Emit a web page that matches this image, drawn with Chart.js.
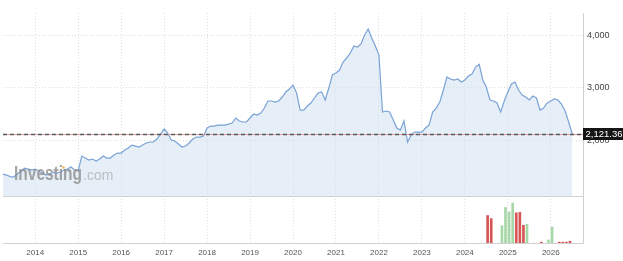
<!DOCTYPE html>
<html><head><meta charset="utf-8">
<script src="https://cdn.jsdelivr.net/npm/chart.js@4.4.1/dist/chart.umd.min.js"></script>
<style>html,body{margin:0;padding:0;background:#fff;}#wrap{width:623px;height:261px;position:relative;}</style>
</head><body><div id="wrap"><canvas id="c" width="623" height="261"></canvas></div>
<script>
// ---- data ----
const startYear = 2013, startMonth = 4; // first monthly category: Apr 2013
const prices = [
  1358,1339,1310,1301,1358,1415,1472,1453,1434,
  1453,1415,1377,1339,1358,1396,1377,1396,1434,1453,1491,1434,
  1420,1700,1663,1625,1644,1606,1644,1701,1663,1663,1720,1758,
  1758,1815,1853,1910,1891,1872,1910,1949,1968,1968,2025,2120,
  2215,2139,2006,1987,1930,1872,1891,1949,2025,2063,2063,2082,
  2234,2272,2272,2291,2291,2291,2310,2330,2425,2368,2349,2349,
  2425,2501,2482,2520,2615,2749,2749,2730,2749,2825,2920,2977,
  3053,2901,2577,2577,2653,2711,2806,2901,2920,2768,2996,3244,
  3282,3339,3492,3568,3663,3796,3777,3835,4006,4120,3949,3796,
  3625,2539,2558,2539,2387,2234,2196,2368,1968,2101,2158,2158,
  2158,2234,2291,2539,2615,2730,2958,3206,3168,3149,3168,3111,
  3149,3225,3263,3396,3450,3149,3015,2768,2749,2711,2539,2749,
  2920,3073,3111,2958,2863,2825,2768,2844,2806,2577,2615,2711,
  2749,2787,2768,2692,2558,2349,2121.36
];
const lastPrice = 2121.36;
const volumeMonths = ['2024-07','2024-08','2024-11','2024-12','2025-01','2025-02','2025-03','2025-04','2025-05','2025-06','2025-10','2025-12','2026-01','2026-03','2026-04','2026-05','2026-06'];
const volumeValues = [62,55,39,80,70,90,68,69,40,42,2,7,36,2,2,2,4];
const volumeDirection = ['down','down','up','up','up','up','down','down','down','up','down','up','up','down','down','down','down'];
const yearTicks = [2014,2015,2016,2017,2018,2019,2020,2021,2022,2023,2024,2025,2026];
const priceTicks = [2000,3000,4000];

// ---- build ----
const monthLabels = prices.map((_, i) => {
  const m = startMonth - 1 + i;
  return (startYear + Math.floor(m / 12)) + '-' + String(m % 12 + 1).padStart(2, '0');
});
const toX = s => { const [yy, mm] = s.split('-').map(Number); return yy + (mm - 1) / 12; };
const lineData = monthLabels.map((l, i) => ({x: toX(l), y: prices[i]}));
const volData = volumeMonths.map((l, i) => ({x: toX(l) + 0.03, y: volumeValues[i]}));
const volColors = volumeDirection.map(d => d === 'up' ? '#a6d7a6' : '#d65656');

const FONT = '"Liberation Sans", Arial, sans-serif';

const overlay = {
  id: 'overlay',
  afterDatasetsDraw(chart) {
    const {ctx, chartArea, scales: {y}} = chart;
    ctx.save();
    // separator between panels
    ctx.strokeStyle = '#d2d2d2'; ctx.lineWidth = 1;
    const sy = Math.round(y.bottom) + 0.5;
    ctx.beginPath(); ctx.moveTo(chartArea.left, sy); ctx.lineTo(chartArea.right, sy); ctx.stroke();
    // watermark
    ctx.textBaseline = 'alphabetic';
    ctx.font = 'bold 20px ' + FONT;
    const w1 = ctx.measureText('Investing').width;
    ctx.save();
    ctx.translate(14, 180); ctx.scale(68 / w1, 1.05);
    ctx.fillStyle = 'rgba(135,135,135,0.75)';
    ctx.fillText('Investing', 0, 0);
    ctx.restore();
    ctx.fillStyle = 'rgba(236,170,60,0.9)';
    ctx.beginPath(); ctx.arc(63.5, 167.5, 1.3, 0, Math.PI * 2); ctx.fill();
    ctx.font = '14px ' + FONT;
    ctx.fillStyle = 'rgba(175,175,175,0.75)';
    ctx.fillText('.com', 83, 180);
    // last price line
    const py = Math.round(y.getPixelForValue(lastPrice)) + 0.5;
    ctx.strokeStyle = '#ee9a9a'; ctx.lineWidth = 1;
    ctx.beginPath(); ctx.moveTo(chartArea.left, py); ctx.lineTo(chartArea.right, py); ctx.stroke();
    ctx.setLineDash([4, 3]); ctx.strokeStyle = '#5a5a5a'; ctx.lineWidth = 1.4;
    ctx.beginPath(); ctx.moveTo(chartArea.left, py); ctx.lineTo(chartArea.right, py); ctx.stroke();
    ctx.restore();
  },
  afterDraw(chart) {
    const {ctx, chartArea, scales: {y}} = chart;
    const py = y.getPixelForValue(lastPrice);
    ctx.save();
    ctx.fillStyle = '#151515';
    ctx.fillRect(chartArea.right, Math.round(py) - 6, chart.width - chartArea.right, 12);
    ctx.fillStyle = '#fff';
    ctx.font = '9.5px ' + FONT;
    ctx.textAlign = 'center'; ctx.textBaseline = 'middle';
    ctx.fillText(lastPrice.toLocaleString('en-US', {minimumFractionDigits: 2}), (chartArea.right + chart.width) / 2 + 1, Math.round(py) + 0.5);
    ctx.restore();
  }
};

new Chart(document.getElementById('c'), {
  data: {
    datasets: [
      {
        type: 'line', data: lineData, yAxisID: 'y', xAxisID: 'x',
        borderColor: '#7aa3d6', borderWidth: 1.2, pointRadius: 0, tension: 0,
        fill: 'start', backgroundColor: 'rgba(205,222,240,0.5)'
      },
      {
        type: 'bar', data: volData, yAxisID: 'yv', xAxisID: 'x',
        backgroundColor: volColors, barThickness: 2, grouped: false
      }
    ]
  },
  options: {
    responsive: false, animation: false,
    layout: {padding: {left: 3, top: 13, right: 0, bottom: 0}},
    plugins: {legend: {display: false}, tooltip: {enabled: false}},
    scales: {
      x: {
        type: 'linear', min: 2013.25, max: 2026.75, offset: false, bounds: 'ticks',
        afterBuildTicks: s => { s.ticks = yearTicks.map(v => ({value: v})); },
        afterFit: s => { s.height = 18; },
        ticks: {color: '#555', font: {size: 8, family: FONT}, padding: 5, maxRotation: 0, autoSkip: false, callback: v => String(v)},
        grid: {color: '#dedede', drawTicks: false, offset: false, borderDash: [1, 2]},
        border: {color: '#d0d0d0', dash: [1, 2]}
      },
      y: {
        type: 'linear', position: 'right', stack: 'p', stackWeight: 183,
        min: 940, max: 4425,
        afterBuildTicks: s => { s.ticks = priceTicks.map(v => ({value: v})); },
        afterFit: s => { s.width = 40; },
        ticks: {color: '#444', font: {size: 9, family: FONT}, padding: 4, callback: v => v.toLocaleString('en-US')},
        grid: {color: '#dedede', drawTicks: false, borderDash: [1, 2]},
        border: {color: '#d0d0d0', dash: [1, 2]}
      },
      yv: {
        type: 'linear', position: 'right', stack: 'p', stackWeight: 47,
        min: 0, max: 106,
        afterFit: s => { s.width = 40; },
        ticks: {display: false},
        grid: {display: false, drawTicks: false},
        border: {color: '#d0d0d0'}
      }
    }
  },
  plugins: [overlay]
});
</script>
</body></html>
